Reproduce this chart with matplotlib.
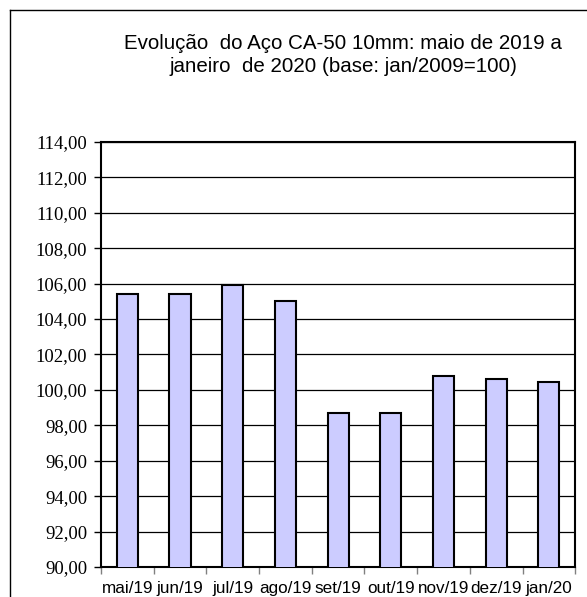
import matplotlib
matplotlib.use('Agg')
import matplotlib.pyplot as plt
from matplotlib.lines import Line2D
import numpy as np

# Data
months = ['mai/19', 'jun/19', 'jul/19', 'ago/19', 'set/19', 'out/19', 'nov/19', 'dez/19', 'jan/20']
index_values = [105.4, 105.4, 105.9, 105.0, 98.7, 98.7, 100.8, 100.6, 100.45]
y_ticks = np.arange(90, 115, 2)

title = 'Evolução  do Aço CA-50 10mm: maio de 2019 a\njaneiro  de 2020 (base: jan/2009=100)'

fig = plt.figure(figsize=(5.87, 5.97), dpi=100)

# Outer frame (top and left borders only visible)
fig.add_artist(Line2D([0.017, 1.0], [0.983, 0.983], transform=fig.transFigure, color='black', linewidth=1.0))
fig.add_artist(Line2D([0.017, 0.017], [0.0, 0.983], transform=fig.transFigure, color='black', linewidth=1.0))

ax = fig.add_axes([0.172, 0.0503, 0.808, 0.712])

x = np.arange(len(months))
ax.bar(x, index_values, width=0.4, color='#ccccff', edgecolor='black', linewidth=1.5, zorder=3)

ax.set_ylim(90, 114)
ax.set_xlim(-0.5, len(months) - 0.5)
ax.set_yticks(y_ticks)
ax.set_yticklabels([('%.2f' % v).replace('.', ',') for v in y_ticks],
                   fontfamily='Liberation Serif', fontsize=13.5)
ax.yaxis.grid(True, color='black', linewidth=0.9, zorder=0)

# Category labels centered, ticks at category boundaries
ax.set_xticks(x)
ax.set_xticklabels(months, fontfamily='Liberation Sans', fontsize=12.3)
ax.tick_params(axis='x', length=0, pad=10)
ax.set_xticks(np.arange(-0.5, len(months), 1), minor=True)
ax.tick_params(axis='x', which='minor', length=5, color='gray', width=1)
ax.tick_params(axis='y', length=5, width=1, direction='out', pad=5)

for s in ax.spines.values():
    s.set_linewidth(1.5)
    s.set_color('black')

fig.text(0.585, 0.908, title, ha='center', va='center', fontfamily='Liberation Sans',
         fontsize=14.8, linespacing=1.25)

plt.savefig('out.png', dpi=100)
